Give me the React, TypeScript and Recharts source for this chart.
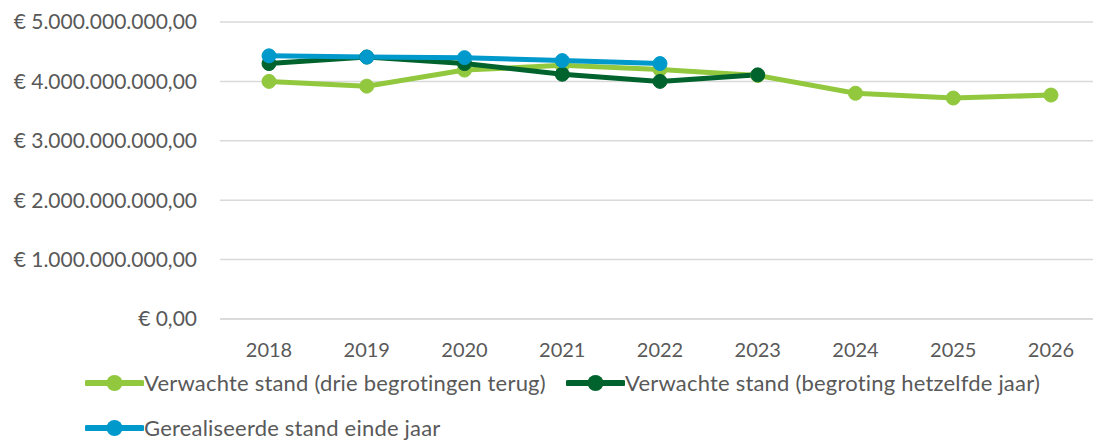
import React from "react";
import { LineChart, Line, XAxis, YAxis, CartesianGrid, Legend } from "recharts";

const years = ["2018", "2019", "2020", "2021", "2022", "2023", "2024", "2025", "2026"];
const drieTerug = [4.0e9, 3.92e9, 4.19e9, 4.27e9, 4.2e9, 4.1e9, 3.8e9, 3.72e9, 3.77e9];
const hetzelfdeJaar = [4.3e9, 4.41e9, 4.3e9, 4.12e9, 4.0e9, 4.11e9, null, null, null];
const gerealiseerd = [4.43e9, 4.41e9, 4.4e9, 4.35e9, 4.3e9, null, null, null, null];
const yTicks = [0, 1e9, 2e9, 3e9, 4e9, 5e9];

const seriesNames = [
  "Verwachte stand (drie begrotingen terug)",
  "Verwachte stand (begroting hetzelfde jaar)",
  "Gerealiseerde stand einde jaar",
];
const colors = ["#92C83E", "#00632E", "#0099CC"];

const data = years.map((y, i) => ({
  year: y,
  a: drieTerug[i],
  b: hetzelfdeJaar[i],
  c: gerealiseerd[i],
}));

const fmtEuro = (v: number) => {
  if (v === 0) return "€ 0,00";
  const s = Math.round(v).toString().replace(/\B(?=(\d{3})+(?!\d))/g, ".");
  return `€ ${s},00`;
};

const FONT = "Lato, 'Open Sans', sans-serif";
const TEXT = "#595959";

const LegendIcon = ({ color }: { color: string }) => (
  <svg width={59} height={18} style={{ display: "block" }}>
    <line x1={2} y1={9} x2={57} y2={9} stroke={color} strokeWidth={6} strokeLinecap="round" />
    <circle cx={29.5} cy={9} r={8} fill={color} />
  </svg>
);

const legendPos = [
  { left: 85, top: 15 },
  { left: 566, top: 15 },
  { left: 85, top: 60 },
];

const CustomLegend = () => (
  <div style={{ position: "relative", width: 1101, height: 81, fontFamily: FONT }}>
    {seriesNames.map((n, i) => (
      <div
        key={n}
        style={{
          position: "absolute",
          left: legendPos[i].left,
          top: legendPos[i].top,
          display: "flex",
          alignItems: "center",
          height: 18,
          whiteSpace: "nowrap",
        }}
      >
        <LegendIcon color={colors[i]} />
        <span style={{ color: TEXT, fontSize: 22, lineHeight: "18px", letterSpacing: 0.2 }}>{n}</span>
      </div>
    ))}
  </div>
);

export default function App() {
  return (
    <div style={{ margin: "-8px 0 0 -8px", width: 1101, height: 440, background: "#fff" }}>
      <LineChart
        width={1101}
        height={440}
        data={data}
        margin={{ top: 22, right: 1, left: 0, bottom: 0 }}
        style={{ fontFamily: FONT }}
      >
        <CartesianGrid vertical={false} stroke="#D9D9D9" strokeWidth={1.5} />
        <XAxis
          dataKey="year"
          height={40}
          padding={{ left: 49, right: 49 }}
          tickLine={false}
          tickSize={0}
          tickMargin={24}
          axisLine={{ stroke: "#D9D9D9", strokeWidth: 1.5 }}
          tick={{ fill: TEXT, fontSize: 20 }}
          interval={0}
        />
        <YAxis
          width={220}
          domain={[0, 5e9]}
          ticks={yTicks}
          tickFormatter={fmtEuro}
          axisLine={false}
          tickLine={false}
          tickSize={0}
          tickMargin={23}
          tick={{ fill: TEXT, fontSize: 21 }}
        />
        <Legend
          verticalAlign="bottom"
          content={() => <CustomLegend />}
          wrapperStyle={{ left: 0, width: 1101, height: 81 }}
        />
        <Line
          dataKey="a"
          name={seriesNames[0]}
          stroke={colors[0]}
          strokeWidth={5}
          dot={{ r: 7, fill: colors[0], stroke: colors[0], strokeWidth: 1 }}
          isAnimationActive={false}
        />
        <Line
          dataKey="b"
          name={seriesNames[1]}
          stroke={colors[1]}
          strokeWidth={5}
          dot={{ r: 7, fill: colors[1], stroke: colors[1], strokeWidth: 1 }}
          isAnimationActive={false}
        />
        <Line
          dataKey="c"
          name={seriesNames[2]}
          stroke={colors[2]}
          strokeWidth={5}
          dot={{ r: 7, fill: colors[2], stroke: colors[2], strokeWidth: 1 }}
          isAnimationActive={false}
        />
      </LineChart>
    </div>
  );
}
